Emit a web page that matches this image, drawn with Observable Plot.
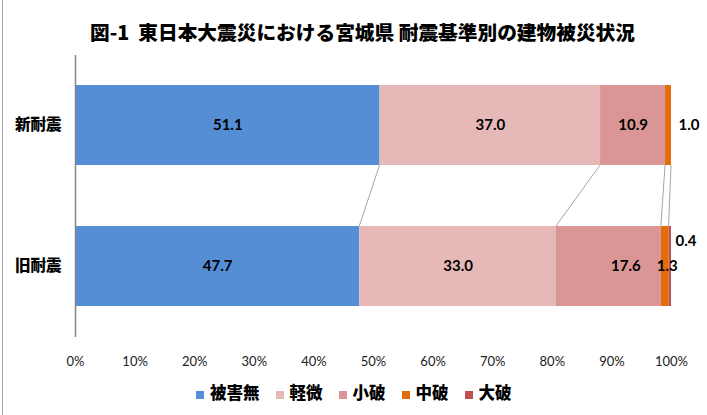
<!DOCTYPE html>
<html>
<head>
<meta charset="utf-8">
<script src="https://cdn.jsdelivr.net/npm/d3@7"></script>
<script src="https://cdn.jsdelivr.net/npm/@observablehq/plot@0.6"></script>
<style>
  html, body { margin: 0; padding: 0; background: #fff; }
  body { width: 707px; height: 415px; position: relative; overflow: hidden; font-family: Lato, "Noto Sans CJK JP", sans-serif; }
  #frame { position: absolute; left: 2px; top: 0; width: 1px; height: 415px; background: #a6a6a6; }
  #title { height: 46px; box-sizing: border-box; padding-top: 20px; text-align: center; font-weight: 900; font-size: 19.7px; line-height: 24px; color: #000; padding-left: 18px; font-family: "Noto Sans CJK JP", sans-serif; }
  #chart { height: 335px; }
  #chart svg { display: block; }
  #legend { position: absolute; left: 196px; top: 380px; display: flex; align-items: flex-end; height: 22px; }
  .item { display: flex; align-items: flex-end; margin-right: 16px; }
  .sw { width: 8px; height: 8px; margin-right: 6px; margin-bottom: 3px; }
  .lab { font-weight: 900; font-size: 16.5px; line-height: 20px; color: #000; font-family: "Noto Sans CJK JP", sans-serif; }
</style>
</head>
<body>
<div id="frame"></div>
<div id="title">図-1&nbsp;&nbsp;東日本大震災における宮城県 耐震基準別の建物被災状況</div>
<div id="chart"></div>
<div id="legend"></div>
<script>
const categories = ["新耐震", "旧耐震"];
const series = ["被害無", "軽微", "小破", "中破", "大破"];
const colors = ["#558ed5", "#e6b9b8", "#d99694", "#e46c0a", "#c0504d"];
const shinValues = [51.1, 37.0, 10.9, 1.0, 0.0];
const kyuValues = [47.7, 33.0, 17.6, 1.3, 0.4];
const xTicks = [0, 10, 20, 30, 40, 50, 60, 70, 80, 90, 100];

const valuesByCat = {"新耐震": shinValues, "旧耐震": kyuValues};
const rows = [];
for (const cat of categories) {
  let acc = 0;
  valuesByCat[cat].forEach((v, i) => {
    rows.push({cat, series: series[i], value: v, x1: acc, x2: acc + v, mid: acc + v / 2});
    acc += v;
  });
}
const topRows = rows.filter(r => r.cat === categories[0]);
const botRows = rows.filter(r => r.cat === categories[1]);
const links = topRows.slice(0, series.length - 1).map((r, i) => ({a: r.x2, b: botRows[i].x2}));

const pick = (cat, s) => rows.filter(r => r.cat === cat && r.series === s);
const fmt = d => d.value.toFixed(1);
const labelFont = {fontSize: 15, fontWeight: "bold", fill: "#000", fontFamily: "Lato, 'Noto Sans CJK JP', sans-serif"};

const connectors = (index, scales) => {
  const g = d3.create("svg:g");
  const bw = typeof scales.y.bandwidth === "function" ? scales.y.bandwidth() : 0;
  const y1 = scales.y(categories[0]) + bw;
  const y2 = scales.y(categories[1]);
  for (const l of links) {
    g.append("line")
      .attr("x1", scales.x(l.a)).attr("y1", y1)
      .attr("x2", scales.x(l.b)).attr("y2", y2)
      .attr("stroke", "#a6a6a6").attr("stroke-width", 1);
  }
  return g.node();
};

const chart = Plot.plot({
  width: 707,
  height: 335,
  marginTop: 9,
  marginBottom: 44,
  marginLeft: 75,
  marginRight: 36,
  style: {fontFamily: "Lato, 'Noto Sans CJK JP', sans-serif", background: "transparent"},
  x: {domain: [0, 100]},
  y: {domain: categories, paddingInner: 0.43, paddingOuter: 0.215},
  color: {domain: series, range: colors},
  marks: [
    Plot.axisX({ticks: xTicks, tickFormat: d => d + "%", tickSize: 0, tickPadding: 19, fontSize: 13, fill: "#222", label: null}),
    Plot.axisY({tickSize: 0, tickPadding: 14, fontSize: 15.5, fontWeight: 900, fill: "#000", label: null, fontFamily: "'Noto Sans CJK JP', sans-serif"}),
    Plot.barX(rows, {x1: "x1", x2: "x2", y: "cat", fill: "series"}),
    connectors,
    Plot.ruleX([0], {stroke: "#868686", strokeWidth: 1.5}),
    Plot.text(rows.filter(r => r.value >= 5 && !(r.cat === "旧耐震" && r.series === "小破")), {x: "mid", y: "cat", text: fmt, ...labelFont}),
    Plot.text(pick("旧耐震", "小破"), {x: "mid", y: "cat", text: fmt, dx: 17, ...labelFont}),
    Plot.text(pick("旧耐震", "中破"), {x: "mid", y: "cat", text: fmt, dx: 2, ...labelFont}),
    Plot.text(pick("新耐震", "中破"), {x: "x2", y: "cat", text: fmt, dx: 7, textAnchor: "start", ...labelFont}),
    Plot.text(pick("旧耐震", "大破"), {x: "x2", y: "cat", text: fmt, dx: 4, dy: -25, textAnchor: "start", ...labelFont})
  ]
});
document.getElementById("chart").appendChild(chart);

const legend = document.getElementById("legend");
series.forEach((s, i) => {
  const item = document.createElement("div");
  item.className = "item";
  const sw = document.createElement("div");
  sw.className = "sw";
  sw.style.background = colors[i];
  const lab = document.createElement("span");
  lab.className = "lab";
  lab.textContent = s;
  item.appendChild(sw);
  item.appendChild(lab);
  legend.appendChild(item);
});
</script>
</body>
</html>
